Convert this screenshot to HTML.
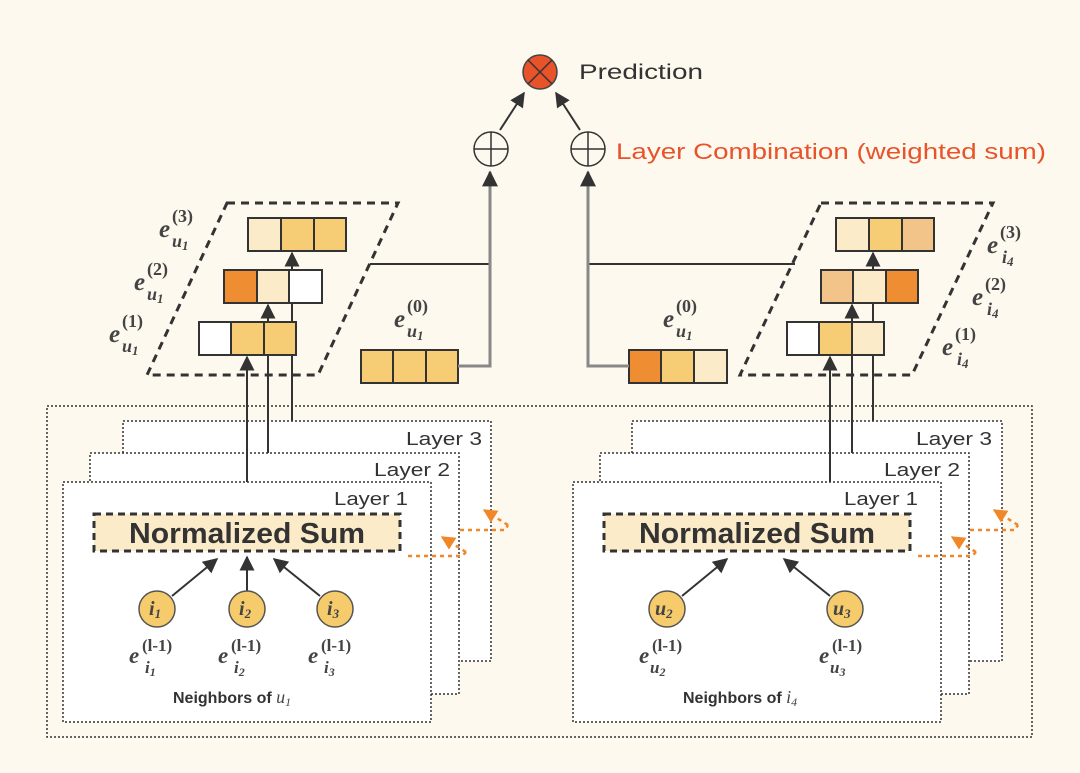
<!DOCTYPE html>
<html><head><meta charset="utf-8"><style>
html,body{margin:0;padding:0;background:#fef9ef;}
svg{display:block;}
.s{font-family:"Liberation Sans",sans-serif;}
.m{font-family:"Liberation Serif",serif;font-style:italic;fill:#444;}
.n{font-family:"Liberation Serif",serif;font-style:normal;fill:#444;}
</style></head><body>
<svg width="1080" height="773" viewBox="0 0 1080 773" xmlns="http://www.w3.org/2000/svg">
<defs>
<marker id="bh" viewBox="0 0 10 10" refX="9" refY="5" markerWidth="15" markerHeight="15" orient="auto" markerUnits="userSpaceOnUse"><path d="M0,0 L10,5 L0,10 z" fill="#333"/></marker>
<marker id="gh" viewBox="0 0 10 10" refX="9" refY="5" markerWidth="16" markerHeight="16" orient="auto" markerUnits="userSpaceOnUse"><path d="M0,0 L10,5 L0,10 z" fill="#333"/></marker>
<marker id="oh" viewBox="0 0 10 10" refX="9" refY="5" markerWidth="14" markerHeight="14" orient="auto" markerUnits="userSpaceOnUse"><path d="M0,0 L10,5 L0,10 z" fill="#f0882a"/></marker>
</defs>
<rect width="1080" height="773" fill="#fef9ef"/>

<rect x="47" y="406" width="985" height="331" fill="none" stroke="#333" stroke-width="1.5" stroke-dasharray="2,2"/>

<g fill="#fff" stroke="#333" stroke-width="1.5" stroke-dasharray="2,2">
<rect x="123" y="421" width="368" height="240"/>
<rect x="90" y="453" width="369" height="241"/>
<rect x="63" y="482" width="368" height="240"/>
<rect x="632" y="421" width="370" height="240"/>
<rect x="600" y="453" width="369" height="241"/>
<rect x="573" y="482" width="368" height="240"/>
</g>
<g class="s" font-size="18" fill="#333">
<text x="406" y="445" textLength="76" lengthAdjust="spacingAndGlyphs">Layer 3</text>
<text x="374" y="476" textLength="76" lengthAdjust="spacingAndGlyphs">Layer 2</text>
<text x="334" y="505" textLength="74" lengthAdjust="spacingAndGlyphs">Layer 1</text>
<text x="916" y="445" textLength="76" lengthAdjust="spacingAndGlyphs">Layer 3</text>
<text x="884" y="476" textLength="76" lengthAdjust="spacingAndGlyphs">Layer 2</text>
<text x="844" y="505" textLength="74" lengthAdjust="spacingAndGlyphs">Layer 1</text>
</g>

<rect x="94" y="514" width="306" height="37" fill="#fcebc9" stroke="#333" stroke-width="3" stroke-dasharray="7,5"/>
<rect x="604" y="514" width="306" height="37" fill="#fcebc9" stroke="#333" stroke-width="3" stroke-dasharray="7,5"/>
<text x="129" y="543" class="s" font-size="29" font-weight="bold" fill="#333" textLength="236" lengthAdjust="spacingAndGlyphs">Normalized Sum</text>
<text x="639" y="543" class="s" font-size="29" font-weight="bold" fill="#333" textLength="236" lengthAdjust="spacingAndGlyphs">Normalized Sum</text>

<g fill="none" stroke="#f0882a" stroke-width="2.5" stroke-dasharray="4,4">
<path d="M408,556 L462,556 L466,552" />
<path d="M466,552 L442,537" marker-end="url(#oh)"/>
<path d="M460,530 L505,530 L508,525"/>
<path d="M508,525 L484,510" marker-end="url(#oh)"/>
<path d="M918,556 L972,556 L976,552" />
<path d="M976,552 L952,537" marker-end="url(#oh)"/>
<path d="M970,530 L1015,530 L1018,525"/>
<path d="M1018,525 L994,510" marker-end="url(#oh)"/>
</g>

<g stroke="#333" stroke-width="2">
<line x1="172" y1="596" x2="217" y2="559" marker-end="url(#bh)"/>
<line x1="247" y1="591" x2="247" y2="557" marker-end="url(#bh)"/>
<line x1="320" y1="596" x2="274" y2="559" marker-end="url(#bh)"/>
<line x1="682" y1="596" x2="727" y2="559" marker-end="url(#bh)"/>
<line x1="830" y1="596" x2="784" y2="559" marker-end="url(#bh)"/>
</g>
<g fill="#f6cb6c" stroke="#555" stroke-width="1.5">
<circle cx="157" cy="609" r="18"/><circle cx="247" cy="609" r="18"/><circle cx="335" cy="609" r="18"/>
<circle cx="667" cy="609" r="18"/><circle cx="845" cy="609" r="18"/>
</g>
<g class="m" font-size="20" font-weight="bold">
<text x="149" y="615">i<tspan font-size="13" dy="3">1</tspan></text>
<text x="239" y="615">i<tspan font-size="13" dy="3">2</tspan></text>
<text x="327" y="615">i<tspan font-size="13" dy="3">3</tspan></text>
<text x="655" y="615">u<tspan font-size="13" dy="3">2</tspan></text>
<text x="833" y="615">u<tspan font-size="13" dy="3">3</tspan></text>
</g>

<g class="m" font-weight="bold">
<text x="129" y="663" font-size="23">e</text><text x="142" y="651" font-size="17" class="n">(l-1)</text><text x="145" y="673" font-size="17">i<tspan font-size="12" dy="3">1</tspan></text>
<text x="218" y="663" font-size="23">e</text><text x="231" y="651" font-size="17" class="n">(l-1)</text><text x="234" y="673" font-size="17">i<tspan font-size="12" dy="3">2</tspan></text>
<text x="308" y="663" font-size="23">e</text><text x="321" y="651" font-size="17" class="n">(l-1)</text><text x="324" y="673" font-size="17">i<tspan font-size="12" dy="3">3</tspan></text>
<text x="639" y="663" font-size="23">e</text><text x="652" y="651" font-size="17" class="n">(l-1)</text><text x="650" y="673" font-size="17">u<tspan font-size="12" dy="3">2</tspan></text>
<text x="819" y="663" font-size="23">e</text><text x="832" y="651" font-size="17" class="n">(l-1)</text><text x="830" y="673" font-size="17">u<tspan font-size="12" dy="3">3</tspan></text>
</g>
<text x="173" y="703" class="s" font-size="16" font-weight="bold" fill="#333">Neighbors of <tspan class="m" font-weight="normal" font-size="18">u<tspan font-size="12" dy="3">1</tspan></tspan></text>
<text x="683" y="703" class="s" font-size="16" font-weight="bold" fill="#333">Neighbors of <tspan class="m" font-weight="normal" font-size="18">i<tspan font-size="12" dy="3">4</tspan></tspan></text>

<g stroke="#333" stroke-width="2" fill="none">
<line x1="247" y1="482" x2="247" y2="357" marker-end="url(#bh)"/>
<line x1="268" y1="453" x2="268" y2="355"/>
<line x1="268" y1="322" x2="268" y2="305" marker-end="url(#bh)"/>
<line x1="292" y1="421" x2="292" y2="303"/>
<line x1="292" y1="270" x2="292" y2="253" marker-end="url(#bh)"/>
<line x1="830" y1="482" x2="830" y2="357" marker-end="url(#bh)"/>
<line x1="852" y1="453" x2="852" y2="355"/>
<line x1="852" y1="322" x2="852" y2="305" marker-end="url(#bh)"/>
<line x1="873" y1="421" x2="873" y2="303"/>
<line x1="873" y1="270" x2="873" y2="253" marker-end="url(#bh)"/>
</g>

<g fill="none" stroke="#333" stroke-width="3" stroke-dasharray="8,6">
<path d="M227,203 L398,203 L318,375 L147,375 Z"/>
<path d="M821,203 L993,203 L912,375 L740,375 Z"/>
</g>

<g stroke="#333" stroke-width="2">
<rect x="248" y="218" width="33" height="33" fill="#fcebc9"/><rect x="281" y="218" width="33" height="33" fill="#f6cd74"/><rect x="314" y="218" width="32" height="33" fill="#f6cd74"/>
<rect x="224" y="270" width="33" height="33" fill="#ef8d33"/><rect x="257" y="270" width="32" height="33" fill="#fcebc9"/><rect x="289" y="270" width="33" height="33" fill="#fff"/>
<rect x="199" y="322" width="32" height="33" fill="#fff"/><rect x="231" y="322" width="33" height="33" fill="#f6cd74"/><rect x="264" y="322" width="32" height="33" fill="#f6cd74"/>
<rect x="361" y="350" width="32" height="33" fill="#f6cd74"/><rect x="393" y="350" width="33" height="33" fill="#f6cd74"/><rect x="426" y="350" width="32" height="33" fill="#f6cd74"/>

<rect x="836" y="218" width="33" height="33" fill="#fcebc9"/><rect x="869" y="218" width="33" height="33" fill="#f6cd74"/><rect x="902" y="218" width="32" height="33" fill="#f3c48a"/>
<rect x="821" y="270" width="32" height="33" fill="#f3c48a"/><rect x="853" y="270" width="33" height="33" fill="#fcebc9"/><rect x="886" y="270" width="32" height="33" fill="#ef8d33"/>
<rect x="787" y="322" width="32" height="33" fill="#fff"/><rect x="819" y="322" width="33" height="33" fill="#f6cd74"/><rect x="852" y="322" width="32" height="33" fill="#fcebc9"/>
<rect x="629" y="350" width="32" height="33" fill="#ef8d33"/><rect x="661" y="350" width="33" height="33" fill="#f6cd74"/><rect x="694" y="350" width="33" height="33" fill="#fcebc9"/>
</g>

<g fill="none" stroke="#333" stroke-width="2">
<line x1="370" y1="264" x2="490" y2="264"/>
<line x1="588" y1="264" x2="795" y2="264"/>
</g>
<g fill="none" stroke="#888" stroke-width="3">
<path d="M458,366 L490,366 L490,172" marker-end="url(#gh)"/>
<path d="M629,366 L588,366 L588,172" marker-end="url(#gh)"/>
</g>
<g fill="none" stroke="#333" stroke-width="1.5">
<circle cx="491" cy="149" r="17" fill="#fef9ef"/><line x1="474" y1="149" x2="508" y2="149"/><line x1="491" y1="132" x2="491" y2="166"/>
<circle cx="588" cy="149" r="17" fill="#fef9ef"/><line x1="571" y1="149" x2="605" y2="149"/><line x1="588" y1="132" x2="588" y2="166"/>
</g>
<g stroke="#333" stroke-width="2">
<line x1="500" y1="130" x2="524" y2="93" marker-end="url(#bh)"/>
<line x1="580" y1="130" x2="556" y2="93" marker-end="url(#bh)"/>
</g>
<circle cx="540" cy="72" r="17" fill="#e8532a" stroke="#444" stroke-width="1.5"/>
<line x1="528" y1="60" x2="552" y2="84" stroke="#333" stroke-width="1.5"/>
<line x1="552" y1="60" x2="528" y2="84" stroke="#333" stroke-width="1.5"/>
<text x="579" y="79" class="s" font-size="21" fill="#333" textLength="124" lengthAdjust="spacingAndGlyphs">Prediction</text>
<text x="616" y="159" class="s" font-size="22" fill="#e8532a" textLength="430" lengthAdjust="spacingAndGlyphs">Layer Combination (weighted sum)</text>

<g class="m" font-weight="bold">
<text x="159" y="237" font-size="25">e</text><text x="172" y="222" font-size="18" class="n">(3)</text><text x="172" y="247" font-size="18">u<tspan font-size="13" dy="3">1</tspan></text>
<text x="134" y="290" font-size="25">e</text><text x="147" y="275" font-size="18" class="n">(2)</text><text x="147" y="300" font-size="18">u<tspan font-size="13" dy="3">1</tspan></text>
<text x="109" y="342" font-size="25">e</text><text x="122" y="327" font-size="18" class="n">(1)</text><text x="122" y="352" font-size="18">u<tspan font-size="13" dy="3">1</tspan></text>
<text x="394" y="327" font-size="25">e</text><text x="407" y="312" font-size="18" class="n">(0)</text><text x="407" y="337" font-size="18">u<tspan font-size="13" dy="3">1</tspan></text>
<text x="663" y="327" font-size="25">e</text><text x="676" y="312" font-size="18" class="n">(0)</text><text x="676" y="337" font-size="18">u<tspan font-size="13" dy="3">1</tspan></text>
<text x="987" y="253" font-size="25">e</text><text x="1000" y="238" font-size="18" class="n">(3)</text><text x="1002" y="263" font-size="18">i<tspan font-size="13" dy="3">4</tspan></text>
<text x="972" y="305" font-size="25">e</text><text x="985" y="290" font-size="18" class="n">(2)</text><text x="987" y="315" font-size="18">i<tspan font-size="13" dy="3">4</tspan></text>
<text x="942" y="355" font-size="25">e</text><text x="955" y="340" font-size="18" class="n">(1)</text><text x="957" y="365" font-size="18">i<tspan font-size="13" dy="3">4</tspan></text>
</g>
</svg>
</body></html>
